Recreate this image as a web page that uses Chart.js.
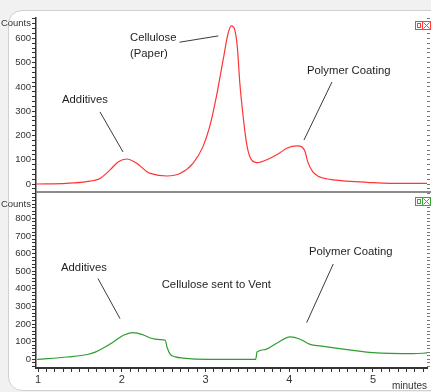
<!DOCTYPE html>
<html>
<head>
<meta charset="utf-8">
<script src="https://cdn.jsdelivr.net/npm/chart.js@4.4.1/dist/chart.umd.min.js"></script>
<style>
    html, body { margin: 0; padding: 0; width: 431px; height: 392px; overflow: hidden; background: #f1f1f1; }
    #panel { position: absolute; left: 8px; top: 10px; width: 440px; height: 379px; background: #fff; border: 1px solid #d0d0d0; border-radius: 14px; }
    canvas { position: absolute; left: 0; }
    #topChart { top: 11px; }
    #bottomChart { top: 192px; }
    #sep { position: absolute; left: 36px; top: 191px; width: 395px; height: 2px; background: #8c8c8c; }
    .icons { position: absolute; left: 415px; width: 16px; height: 9px; }
</style>
</head>
<body>
<div id="panel"></div>
<canvas id="topChart" width="431" height="182"></canvas>
<canvas id="bottomChart" width="431" height="200"></canvas>
<div id="sep"></div>
<svg class="icons" style="top:21px" viewBox="0 0 16 9">
    <rect x="0.5" y="0.5" width="7" height="8" fill="#fff" stroke="#ff3b3b"/>
    <rect x="2.5" y="2.5" width="3" height="4" fill="none" stroke="#ff3b3b"/>
    <rect x="7.5" y="0.5" width="8" height="8" fill="#fff" stroke="#ff3b3b"/>
    <path d="M8.5 1.5 L14.5 7.5 M14.5 1.5 L8.5 7.5" stroke="#ff3b3b"/>
</svg>
<svg class="icons" style="top:197px" viewBox="0 0 16 9">
    <rect x="0.5" y="0.5" width="7" height="8" fill="#fff" stroke="#3aa63a"/>
    <rect x="2.5" y="2.5" width="3" height="4" fill="none" stroke="#3aa63a"/>
    <rect x="7.5" y="0.5" width="8" height="8" fill="#fff" stroke="#3aa63a"/>
    <path d="M8.5 1.5 L14.5 7.5 M14.5 1.5 L8.5 7.5" stroke="#3aa63a"/>
</svg>

<script>
// Red trace: paper sample (time in minutes, counts)
const redTimes = [0.98, 1.34, 1.58, 1.74, 1.86, 1.96, 2.06, 2.18, 2.30, 2.34, 2.54, 2.70, 2.85, 2.97,
    3.05, 3.13, 3.21, 3.27, 3.31, 3.35, 3.38, 3.41, 3.45, 3.49, 3.53, 3.61, 3.77, 3.89, 3.97,
    4.09, 4.15, 4.19, 4.22, 4.28, 4.34, 4.49, 4.69, 4.93, 5.20, 5.65];
const redCounts = [0, 3, 10, 23, 58, 92, 103, 85, 51, 44, 33, 44, 85, 154,
    236, 360, 510, 620, 651, 634, 565, 415, 277, 168, 112, 88, 106, 129, 147,
    157, 153, 133, 92, 51, 33, 19, 12, 7, 3, 3];

// Green trace: cellulose vented
const greenTimes = [0.99, 1.35, 1.59, 1.69, 1.77, 1.90, 2.02, 2.13, 2.25, 2.34, 2.46, 2.52, 2.54, 2.58,
    2.64, 2.73, 3.03, 3.60, 3.615, 3.71, 3.85, 4.01, 4.13, 4.25, 4.37, 4.69, 5.00, 5.48, 5.65];
const greenCounts = [0, 13, 27, 42, 61, 98, 136, 151, 140, 121, 112, 108, 70, 28,
    14, 7, 0, 0, 41, 55, 91, 127, 114, 85, 76, 55, 38, 32, 36];

// Axis ticks
const xLabels = [1, 2, 3, 4, 5];
const topLabels = [0, 100, 200, 300, 400, 500, 600];
const bottomLabels = [0, 100, 200, 300, 400, 500, 600, 700, 800];

const X_MIN = 0.976, X_MAX = 5.645;
const FONT = "'Liberation Sans', Arial, sans-serif";

// notes drawn in data coordinates
const topNotes = {
    texts: [
        { lines: ['Additives'], x: 1.287, y: 346 },
        { lines: ['Cellulose', '(Paper)'], x: 2.099, y: 600 },
        { lines: ['Polymer Coating'], x: 4.212, y: 465 }
    ],
    leaders: [
        [1.740, 297, 2.015, 132],
        [2.69, 584, 3.153, 610],
        [4.510, 420, 4.176, 181]
    ]
};
const bottomNotes = {
    texts: [
        { lines: ['Additives'], x: 1.275, y: 518 },
        { lines: ['Cellulose sent to Vent'], x: 2.477, y: 421 },
        { lines: ['Polymer Coating'], x: 4.236, y: 607 }
    ],
    leaders: [
        [1.716, 458, 1.979, 231],
        [4.526, 541, 4.208, 208]
    ]
};

const notesPlugin = {
    id: 'notes',
    afterDatasetsDraw(chart, args, opts) {
        const ctx = chart.ctx;
        const xs = chart.scales.x, ys = chart.scales.y;
        ctx.save();
        ctx.strokeStyle = '#3a3a3a';
        ctx.lineWidth = 1;
        opts.leaders.forEach(l => {
            ctx.beginPath();
            ctx.moveTo(xs.getPixelForValue(l[0]), ys.getPixelForValue(l[1]));
            ctx.lineTo(xs.getPixelForValue(l[2]), ys.getPixelForValue(l[3]));
            ctx.stroke();
        });
        ctx.fillStyle = '#1e1e1e';
        ctx.font = '11.3px ' + FONT;
        ctx.textBaseline = 'middle';
        ctx.textAlign = 'left';
        opts.texts.forEach(t => {
            const px = xs.getPixelForValue(t.x);
            const py = ys.getPixelForValue(t.y);
            t.lines.forEach((line, i) => ctx.fillText(line, px, py + i * 16));
        });
        ctx.restore();
    }
};

// tick positions (fresh objects every call, so two axes never share labels)
function steps(from, to, step) {
    const out = [];
    for (let v = from; v <= to + 1e-9; v += step) out.push(Math.round(v * 100) / 100);
    return out;
}

function noOverflow(s) {
    s.paddingTop = 0;
    s.paddingBottom = 0;
    s.paddingLeft = 0;
    s.paddingRight = 0;
}

function yAxes(min, max, labels, countsAt) {
    const tickValues = steps(-40, max, 20).filter(v => v >= min && v <= max);
    return {
        y: {
            position: 'left',
            min: min, max: max,
            afterBuildTicks: s => { s.ticks = tickValues.map(v => ({ value: v })); },
            afterFit: s => { s.width = 36; noOverflow(s); },
            border: { display: true, color: '#333', width: 1.5 },
            grid: { drawOnChartArea: false, drawTicks: true, tickLength: 4, tickColor: '#333' },
            ticks: {
                autoSkip: false, padding: 1, color: '#333',
                font: { size: 9.5, family: FONT },
                callback: v => v === countsAt ? 'Counts' : (labels.includes(v) ? String(v) : '')
            }
        },
        yRight: {
            position: 'right',
            min: min, max: max,
            afterBuildTicks: s => { s.ticks = tickValues.map(v => ({ value: v })); },
            afterFit: s => { s.width = 4; noOverflow(s); },
            border: { display: false },
            grid: { drawOnChartArea: false, drawTicks: true, tickLength: 3, tickColor: '#777' },
            ticks: { autoSkip: false, padding: 0, callback: () => '' }
        }
    };
}

function lineData(times, counts, color) {
    return {
        datasets: [{
            data: times.map((t, i) => ({ x: t, y: counts[i] })),
            borderColor: color,
            borderWidth: 1.2,
            pointRadius: 0,
            cubicInterpolationMode: 'monotone',
            fill: false
        }]
    };
}

const common = {
    responsive: false,
    animation: false,
    events: [],
    plugins: { legend: { display: false }, tooltip: { enabled: false } }
};

new Chart(document.getElementById('topChart'), {
    type: 'line',
    data: lineData(redTimes, redCounts, '#ff3434'),
    plugins: [notesPlugin],
    options: {
        ...common,
        layout: { padding: { top: 7, bottom: 1, left: 0, right: 0 } },
        plugins: { ...common.plugins, notes: topNotes },
        scales: {
            x: { type: 'linear', min: X_MIN, max: X_MAX, display: false },
            ...yAxes(-32.9, 683.7, topLabels, 660)
        }
    }
});

const xTickValues = steps(1, 5.6, 0.1);

new Chart(document.getElementById('bottomChart'), {
    type: 'line',
    data: lineData(greenTimes, greenCounts, '#2f9e2f'),
    plugins: [notesPlugin],
    options: {
        ...common,
        layout: { padding: { top: 0, bottom: 0, left: 0, right: 0 } },
        plugins: { ...common.plugins, notes: bottomNotes },
        scales: {
            x: {
                type: 'linear', min: X_MIN, max: X_MAX,
                afterBuildTicks: s => { s.ticks = xTickValues.map(v => ({ value: v })); },
                afterFit: s => { s.height = 24; noOverflow(s); },
                border: { display: true, color: '#333', width: 2 },
                grid: { drawOnChartArea: false, drawTicks: true, tickLength: 4, tickColor: '#333' },
                ticks: {
                    autoSkip: false, maxRotation: 0, padding: 1, color: '#333',
                    font: { size: 11, family: FONT },
                    callback: v => xLabels.includes(Math.round(v * 100) / 100) ? String(Math.round(v)) : ''
                },
                title: {
                    display: true, text: 'minutes', align: 'end', color: '#333',
                    font: { size: 10, family: FONT }, padding: 0
                }
            },
            ...yAxes(-49.4, 949, bottomLabels, 880)
        }
    }
});
</script>
</body>
</html>
